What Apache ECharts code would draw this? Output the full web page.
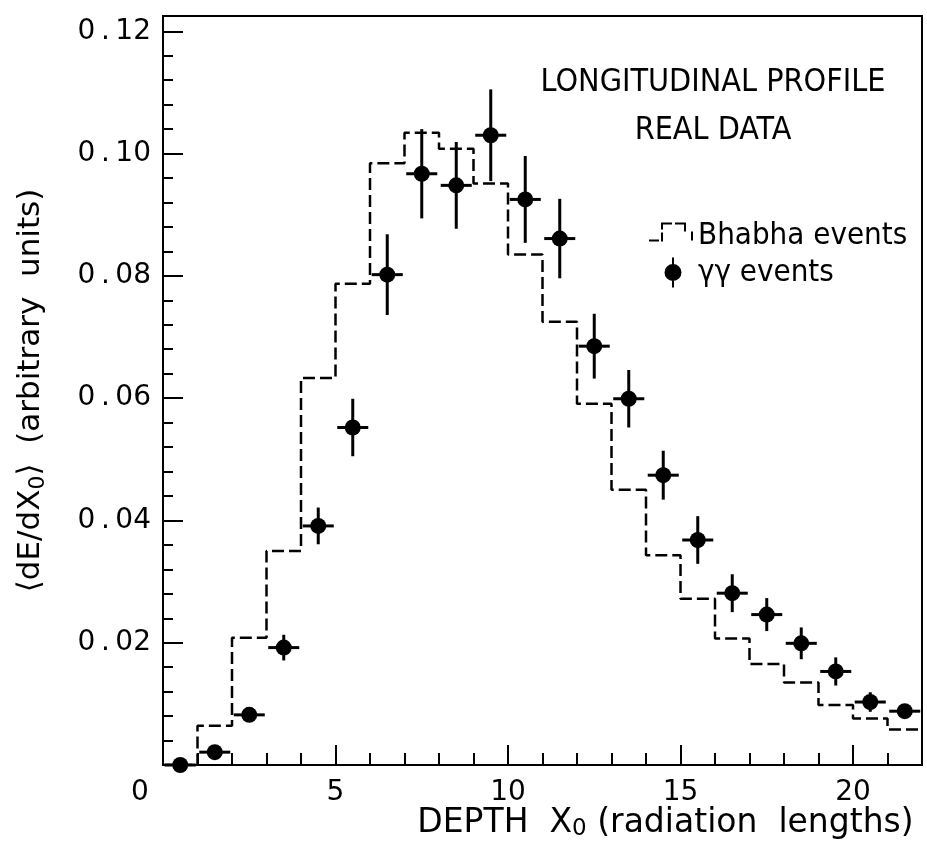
<!DOCTYPE html>
<html>
<head>
<meta charset="utf-8">
<script src="https://cdn.jsdelivr.net/npm/echarts@6/dist/echarts.min.js"></script>
<style>
  html, body { margin: 0; padding: 0; background: #fff; }
  #chart { width: 927px; height: 850px; }
</style>
</head>
<body>
<div id="chart"></div>
<script>
// Bhabha histogram: left bin edges and heights (bins 1 X0 wide)
const bhabhaEdges = [0, 1, 2, 3, 4, 5, 6, 7, 8, 9, 10, 11, 12, 13, 14, 15, 16, 17, 18, 19, 20, 21];
const bhabhaValues = [0, 0.0064, 0.0208, 0.0350, 0.0633, 0.0787, 0.0984, 0.1034, 0.1008, 0.0951, 0.0835,
  0.0725, 0.0591, 0.0450, 0.0343, 0.0272, 0.0207, 0.0165, 0.0135, 0.0098, 0.0076, 0.0058];
const lastEdge = 22;

// gamma-gamma events: bin centres, values, vertical errors
const ggDepth = [0.5, 1.5, 2.5, 3.5, 4.5, 5.5, 6.5, 7.5, 8.5, 9.5, 10.5, 11.5, 12.5, 13.5, 14.5, 15.5,
  16.5, 17.5, 18.5, 19.5, 20.5, 21.5];
const ggValues = [0.0000, 0.0021, 0.0082, 0.0192, 0.0391, 0.0552, 0.0802, 0.0967, 0.0948, 0.1030, 0.0925,
  0.0861, 0.0685, 0.0599, 0.0474, 0.0368, 0.0281, 0.0246, 0.0199, 0.0153, 0.0103, 0.0088];
const ggErrors = [0, 0, 0, 0.0021, 0.0030, 0.0047, 0.0066, 0.0073, 0.0071, 0.0075, 0.0071,
  0.0065, 0.0053, 0.0047, 0.0040, 0.0039, 0.0031, 0.0027, 0.0026, 0.0023, 0.0016, 0.0010];
const ggHalfWidth = 0.45;

const NARROW = '"DejaVu Sans Condensed", "DejaVu Sans", sans-serif';
const WIDE = '"DejaVu Sans", sans-serif';

// legend glyphs, drawn in a 44x30 box (tiny corner anchors keep the box size)
const ANCHORS = 'M0,0h0.1v0.1h-0.1zM43.9,29.9h0.1v0.1h-0.1z';
const bhabhaIcon = 'path://' + ANCHORS +
    'M0,19h10v2h-10z M12,12h2v9h-2z M12,2h2v7h-2z M14,2h9v2h-9z M26,2h9v2h-9z' +
    'M35,2h2v9h-2z M42,11h2v9h-2z';
const ggIcon = 'path://' + ANCHORS +
    'M24,6.5A8.5,8.5 0 1 1 23.99,6.5Z M23,0h2v30h-2z';

const chart = echarts.init(document.getElementById('chart'));

// step line through bin edges
const stepData = bhabhaEdges.map((x, i) => [x, bhabhaValues[i]]);
stepData.push([lastEdge, bhabhaValues[bhabhaValues.length - 1]]);

const ggData = ggDepth.map((x, i) => [x, ggValues[i], ggErrors[i]]);

// points with error bars
function renderPoint(params, api) {
    const x = api.value(0), y = api.value(1), e = api.value(2);
    const c = api.coord([x, y]);
    const l = api.coord([x - ggHalfWidth, y]);
    const r = api.coord([x + ggHalfWidth, y]);
    const children = [
        { type: 'line', shape: { x1: l[0], y1: c[1], x2: r[0], y2: c[1] },
          style: { stroke: '#000', lineWidth: 3 } }
    ];
    if (e > 0) {
        const t = api.coord([x, y + e]);
        const b = api.coord([x, y - e]);
        children.push({ type: 'line', shape: { x1: c[0], y1: t[1], x2: c[0], y2: b[1] },
            style: { stroke: '#000', lineWidth: 3 } });
    }
    children.push({ type: 'circle', shape: { cx: c[0], cy: c[1], r: 8 }, style: { fill: '#000' } });
    return { type: 'group', children: children };
}

// subscript style for the axis names
const nameRich = {
    n: { fontFamily: WIDE, fontSize: 33, color: '#000', lineHeight: 36 },
    s: { fontFamily: WIDE, fontSize: 23, color: '#000', lineHeight: 23, verticalAlign: 'bottom' }
};

const option = {
    animation: false,
    backgroundColor: '#fff',
    textStyle: { fontFamily: NARROW, color: '#000' },
    title: {
        text: 'LONGITUDINAL PROFILE\nREAL DATA',
        left: 708,
        top: 54,
        textAlign: 'center',
        textStyle: { fontFamily: NARROW, fontSize: 32, fontWeight: 'normal', color: '#000', lineHeight: 48 }
    },
    legend: {
        orient: 'vertical',
        left: 644,
        top: 215,
        itemWidth: 44,
        itemHeight: 30,
        itemGap: 6,
        textStyle: { fontFamily: NARROW, fontSize: 31, color: '#000' },
        data: [
            { name: 'Bhabha events', icon: bhabhaIcon, itemStyle: { color: '#000', borderWidth: 0 } },
            { name: 'γγ events', icon: ggIcon, itemStyle: { color: '#000', borderWidth: 0 } }
        ]
    },
    grid: {
        left: 163, right: 5, top: 16, bottom: 85,
        outerBoundsMode: 'none',
        show: true, borderColor: '#000', borderWidth: 2
    },
    xAxis: {
        type: 'value',
        min: 0, max: 22, interval: 5,
        name: '{n|DEPTH  X}{s|0}{n| (radiation  lengths)}',
        nameLocation: 'middle',
        nameGap: 40,
        nameMoveOverlap: false,
        nameTextStyle: { fontFamily: WIDE, fontSize: 33, color: '#000', padding: [0, 0, 0, 246], rich: nameRich },
        axisLine: { lineStyle: { color: '#000', width: 2 } },
        axisTick: { inside: true, length: 20, lineStyle: { color: '#000', width: 2 } },
        minorTick: { show: true, splitNumber: 5, length: 12, lineStyle: { color: '#000', width: 2 } },
        splitLine: { show: false },
        axisLabel: {
            showMaxLabel: false,
            margin: 14,
            fontFamily: WIDE, fontSize: 28, color: '#000',
            formatter: v => v === 0 ? '{z|0}' : String(v),
            rich: { z: { fontFamily: WIDE, fontSize: 28, color: '#000', padding: [0, 46, 0, 0] } }
        }
    },
    yAxis: {
        type: 'value',
        min: 0, max: 0.1225, interval: 0.02,
        name: '{n|⟨dE/dX}{s|0}{n|⟩  (arbitrary  units)}',
        nameLocation: 'middle',
        nameGap: 114,
        nameMoveOverlap: false,
        nameTextStyle: { fontFamily: WIDE, fontSize: 31, color: '#000',
            rich: {
                n: { fontFamily: WIDE, fontSize: 31, color: '#000', lineHeight: 36 },
                s: { fontFamily: WIDE, fontSize: 22, color: '#000', lineHeight: 22, verticalAlign: 'bottom' }
            } },
        axisLine: { lineStyle: { color: '#000', width: 2 } },
        axisTick: { inside: true, length: 20, lineStyle: { color: '#000', width: 2 } },
        minorTick: { show: true, splitNumber: 5, length: 10, lineStyle: { color: '#000', width: 2 } },
        splitLine: { show: false },
        axisLabel: {
            showMinLabel: false,
            showMaxLabel: false,
            margin: 12,
            fontFamily: WIDE, fontSize: 28, color: '#000',
            formatter: v => v.toFixed(2).replace('.', '\u2009.\u2009')
        }
    },
    series: [
        {
            name: 'Bhabha events',
            type: 'line',
            step: 'end',
            data: stepData,
            symbol: 'none',
            lineStyle: { color: '#000', width: 2.5, type: [12, 5] },
            itemStyle: { color: '#000' },
            z: 2
        },
        {
            name: 'γγ events',
            type: 'custom',
            renderItem: renderPoint,
            data: ggData,
            itemStyle: { color: '#000' },
            encode: { x: 0, y: 1 },
            z: 3
        }
    ]
};

chart.setOption(option);
</script>
</body>
</html>
